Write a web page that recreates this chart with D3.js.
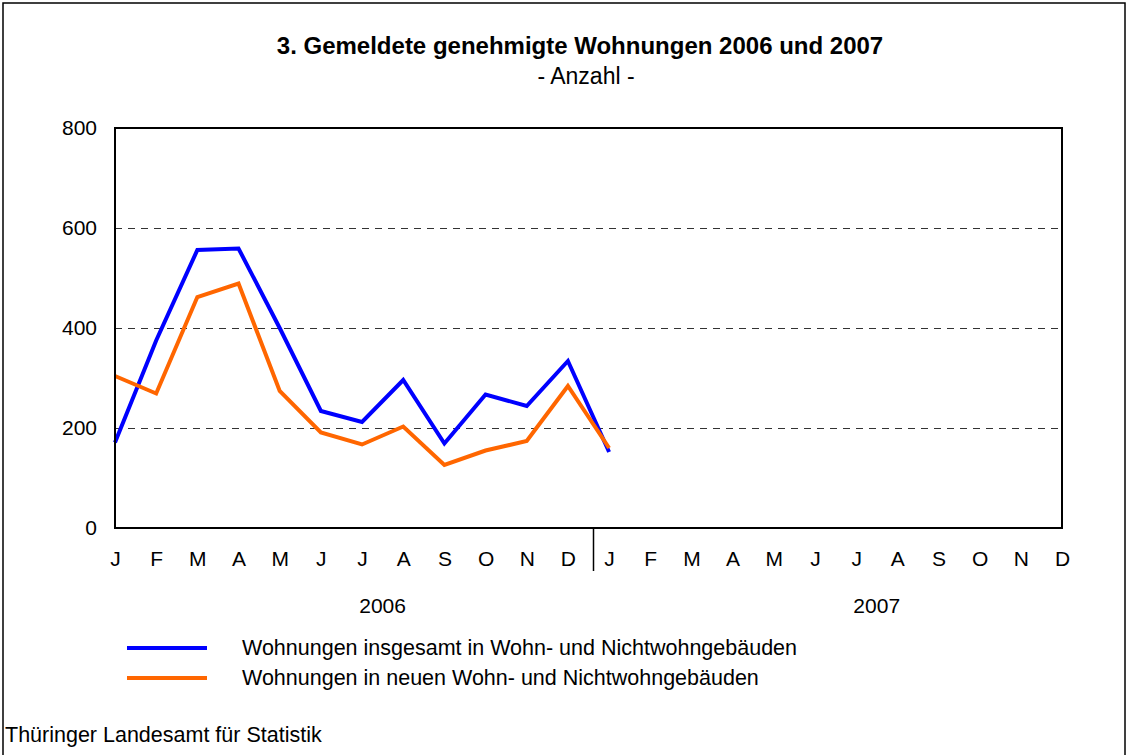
<!DOCTYPE html>
<html>
<head>
<meta charset="utf-8">
<script src="https://cdn.jsdelivr.net/npm/d3@7"></script>
<style>
  body { margin: 0; background: #fff; }
  svg { display: block; font-family: "Liberation Sans", Arial, sans-serif; }
</style>
</head>
<body>
<div id="chart"></div>
<script>
// Monate (2 Jahre)
const monthLabels = ["J","F","M","A","M","J","J","A","S","O","N","D",
                     "J","F","M","A","M","J","J","A","S","O","N","D"];
const years = ["2006", "2007"];
const yTicks = [0, 200, 400, 600, 800];

// Wohnungen insgesamt (Jan 2006 - Jan 2007)
const insgesamt = [171, 375, 556, 559, 400, 234, 212, 296, 169, 267, 244, 334, 152];
// Wohnungen in neuen Gebäuden
const neu = [304, 269, 462, 489, 274, 191, 167, 203, 126, 155, 174, 284, 160];

const seriesNames = [
  "Wohnungen insgesamt in Wohn- und Nichtwohngebäuden",
  "Wohnungen in neuen Wohn- und Nichtwohngebäuden"
];
const seriesColors = ["#0000ff", "#ff6600"];

const W = 1127, H = 755;
const svg = d3.select("#chart").append("svg")
    .attr("width", W).attr("height", H);

// Rahmen
svg.append("rect")
    .attr("x", 3).attr("y", 3)
    .attr("width", W - 5).attr("height", H + 10)
    .attr("fill", "none").attr("stroke", "#000").attr("stroke-width", 1.5);

// Titel
svg.append("text")
    .attr("x", 580).attr("y", 54)
    .attr("text-anchor", "middle")
    .attr("font-size", "24px").attr("font-weight", "bold")
    .text("3. Gemeldete genehmigte Wohnungen 2006 und 2007");
svg.append("text")
    .attr("x", 586).attr("y", 84)
    .attr("text-anchor", "middle")
    .attr("font-size", "23px")
    .text("- Anzahl -");

// Skalen
const pLeft = 115, pRight = 1062, pTop = 128, pBottom = 528;
const x = d3.scaleLinear().domain([0, 23]).range([pLeft, pRight]);
const y = d3.scaleLinear().domain([0, 800]).range([pBottom, pTop]);

// Gitterlinien
svg.append("g")
    .selectAll("line")
    .data(yTicks.filter(d => d > 0 && d < 800))
    .join("line")
    .attr("x1", pLeft).attr("x2", pRight)
    .attr("y1", d => y(d) + 0.5).attr("y2", d => y(d) + 0.5)
    .attr("stroke", "#333").attr("stroke-width", 1)
    .attr("stroke-dasharray", "7,6");

// Y-Achse
const yAxis = svg.append("g")
    .attr("transform", `translate(${pLeft},0)`)
    .call(d3.axisLeft(y).tickValues(yTicks).tickSize(0).tickPadding(18));
yAxis.select(".domain").remove();
yAxis.selectAll("text")
    .attr("font-size", "21px")
    .attr("font-family", "Liberation Sans, Arial, sans-serif")
    .attr("fill", "#000");

// X-Achse (Monate)
const xAxis = svg.append("g")
    .attr("transform", `translate(0,${pBottom})`)
    .call(d3.axisBottom(x).tickValues(d3.range(24))
        .tickFormat(i => monthLabels[i]).tickSize(0).tickPadding(23));
xAxis.select(".domain").remove();
xAxis.selectAll("text")
    .attr("font-size", "21px")
    .attr("font-family", "Liberation Sans, Arial, sans-serif")
    .attr("fill", "#000");

// Trennlinie zwischen den Jahren
svg.append("line")
    .attr("x1", x(11.5) + 5).attr("x2", x(11.5) + 5)
    .attr("y1", pBottom).attr("y2", 571)
    .attr("stroke", "#000").attr("stroke-width", 1.5);

// Jahre
svg.append("g")
    .selectAll("text")
    .data(years)
    .join("text")
    .attr("x", (d, i) => x(i * 12 + 6.5))
    .attr("y", 613)
    .attr("text-anchor", "middle")
    .attr("font-size", "21px")
    .text(d => d);

// Linien
const line = d3.line()
    .x((d, i) => x(i))
    .y(d => y(d));

[insgesamt, neu].forEach((data, k) => {
  svg.append("path")
      .datum(data)
      .attr("fill", "none")
      .attr("stroke", seriesColors[k])
      .attr("stroke-width", 4)
      .attr("stroke-linejoin", "miter")
      .attr("d", line);
});

// Plotbereich Rahmen
svg.append("rect")
    .attr("x", pLeft).attr("y", pTop)
    .attr("width", pRight - pLeft).attr("height", pBottom - pTop)
    .attr("fill", "none").attr("stroke", "#000").attr("stroke-width", 2);

// Legende
const legend = svg.append("g");
seriesNames.forEach((name, i) => {
  const ly = 648 + i * 30;
  legend.append("line")
      .attr("x1", 127).attr("x2", 207)
      .attr("y1", ly).attr("y2", ly)
      .attr("stroke", seriesColors[i]).attr("stroke-width", 4);
  legend.append("text")
      .attr("x", 242).attr("y", ly + 7)
      .attr("font-size", "21.5px")
      .text(name);
});

// Quelle
svg.append("text")
    .attr("x", 5).attr("y", 742)
    .attr("font-size", "21.5px")
    .text("Thüringer Landesamt für Statistik");
</script>
</body>
</html>
